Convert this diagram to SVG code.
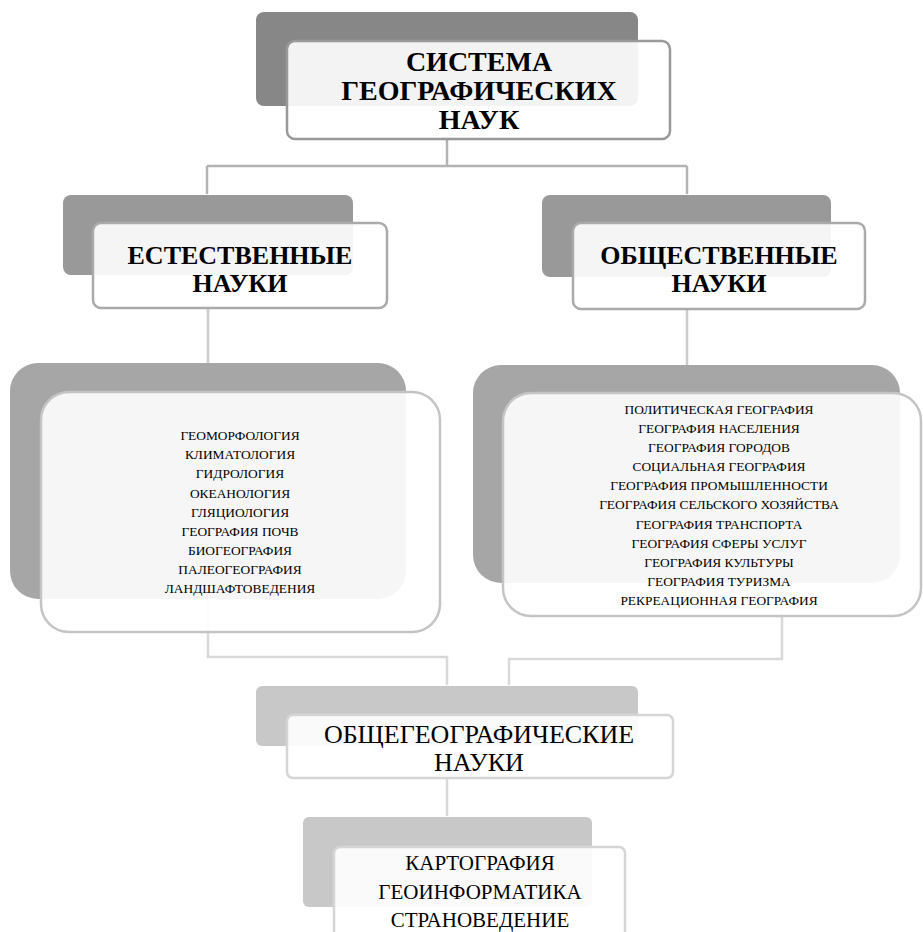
<svg xmlns="http://www.w3.org/2000/svg" width="923" height="932" viewBox="0 0 923 932">
<style>
.t{font-family:"Liberation Serif","Times New Roman",serif;fill:#000;text-anchor:middle}
.b{font-weight:bold}
.front{fill:#fff;fill-opacity:0.9;stroke-width:2.5}
.c1{fill:none;stroke:#b3b3b3;stroke-width:2.5}
.c2{fill:none;stroke:#cccccc;stroke-width:2.5}
.c3{fill:none;stroke:#d9d9d9;stroke-width:2.5}
</style>
<rect width="923" height="932" fill="#fff"/>
<g id="connectors">
<path class="c1" d="M447 139 V166 M207 166 H687 M207 166 V194 M687 166 V194"/>
<path class="c2" d="M208 308 V364 M687 309 V366"/>
<path class="c3" d="M208 600 V657 H447 V685 M782 583 V659 H509 V685 M447 778 V816"/>
</g>
<g id="n-top">
<rect x="256" y="12" width="382" height="94" rx="8" fill="#878787"/>
<rect class="front" x="287" y="41" width="383" height="98" rx="8" stroke="#999"/>
<text class="t b" font-size="28" x="479" y="71">СИСТЕМА</text>
<text class="t b" font-size="28" x="479" y="100">ГЕОГРАФИЧЕСКИХ</text>
<text class="t b" font-size="28" x="479" y="129">НАУК</text>
</g>
<g id="n-natural">
<rect x="63" y="195" width="290" height="80" rx="8" fill="#999"/>
<rect class="front" x="93" y="223" width="294" height="85" rx="8" stroke="#aaa"/>
<text class="t b" font-size="26" x="240" y="264">ЕСТЕСТВЕННЫЕ</text>
<text class="t b" font-size="26" x="240" y="292">НАУКИ</text>
</g>
<g id="n-social">
<rect x="542" y="195" width="289" height="82" rx="8" fill="#999"/>
<rect class="front" x="573" y="223" width="292" height="86" rx="8" stroke="#aaa"/>
<text class="t b" font-size="26" x="719" y="264">ОБЩЕСТВЕННЫЕ</text>
<text class="t b" font-size="26" x="719" y="292">НАУКИ</text>
</g>
<g id="n-natural-list">
<rect x="10" y="363" width="396" height="236" rx="28" fill="#a6a6a6"/>
<rect class="front" x="41" y="392" width="399" height="240" rx="28" stroke="#c4c4c4"/>
<g class="t" font-size="13.4">
<text x="240" y="440">ГЕОМОРФОЛОГИЯ</text>
<text x="240" y="459">КЛИМАТОЛОГИЯ</text>
<text x="240" y="478">ГИДРОЛОГИЯ</text>
<text x="240" y="498">ОКЕАНОЛОГИЯ</text>
<text x="240" y="517">ГЛЯЦИОЛОГИЯ</text>
<text x="240" y="536">ГЕОГРАФИЯ ПОЧВ</text>
<text x="240" y="555">БИОГЕОГРАФИЯ</text>
<text x="240" y="574">ПАЛЕОГЕОГРАФИЯ</text>
<text x="240" y="593">ЛАНДШАФТОВЕДЕНИЯ</text>
</g>
</g>
<g id="n-social-list">
<rect x="473" y="365" width="427" height="218" rx="28" fill="#a6a6a6"/>
<rect class="front" x="503" y="393" width="418" height="223" rx="28" stroke="#c4c4c4"/>
<g class="t" font-size="13.4">
<text x="719" y="414">ПОЛИТИЧЕСКАЯ ГЕОГРАФИЯ</text>
<text x="719" y="433">ГЕОГРАФИЯ НАСЕЛЕНИЯ</text>
<text x="719" y="452">ГЕОГРАФИЯ ГОРОДОВ</text>
<text x="719" y="471">СОЦИАЛЬНАЯ ГЕОГРАФИЯ</text>
<text x="719" y="490">ГЕОГРАФИЯ ПРОМЫШЛЕННОСТИ</text>
<text x="719" y="509">ГЕОГРАФИЯ СЕЛЬСКОГО ХОЗЯЙСТВА</text>
<text x="719" y="529">ГЕОГРАФИЯ ТРАНСПОРТА</text>
<text x="719" y="548">ГЕОГРАФИЯ СФЕРЫ УСЛУГ</text>
<text x="719" y="567">ГЕОГРАФИЯ КУЛЬТУРЫ</text>
<text x="719" y="586">ГЕОГРАФИЯ ТУРИЗМА</text>
<text x="719" y="605">РЕКРЕАЦИОННАЯ ГЕОГРАФИЯ</text>
</g>
</g>
<g id="n-general">
<rect x="256" y="686" width="382" height="60" rx="6" fill="#c8c8c8"/>
<rect class="front" x="287" y="715" width="386" height="63" rx="6" stroke="#d5d5d5"/>
<text class="t" font-size="26" x="479" y="743">ОБЩЕГЕОГРАФИЧЕСКИЕ</text>
<text class="t" font-size="26" x="479" y="771">НАУКИ</text>
</g>
<g id="n-general-list">
<rect x="303" y="817" width="289" height="90" rx="6" fill="#c8c8c8"/>
<rect class="front" x="334" y="847" width="291" height="100" rx="6" stroke="#d5d5d5"/>
<text class="t" font-size="21" x="480" y="870">КАРТОГРАФИЯ</text>
<text class="t" font-size="21" x="480" y="899">ГЕОИНФОРМАТИКА</text>
<text class="t" font-size="21" x="480" y="927">СТРАНОВЕДЕНИЕ</text>
</g>
</svg>
